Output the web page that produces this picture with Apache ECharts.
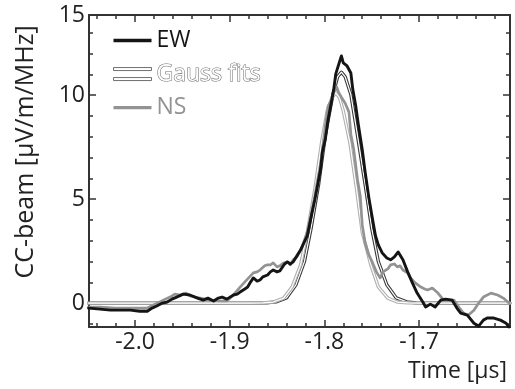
<!DOCTYPE html>
<html><head><meta charset="utf-8">
<script src="https://cdn.jsdelivr.net/npm/echarts@6.0.0/dist/echarts.min.js"></script>
<style>html,body{margin:0;padding:0;background:#fff}#c{width:515px;height:389px}</style>
</head><body><div id="c"></div>
<script>
// ---- data ----
const ewTime = [-2.049,-2.037,-2.026,-2.016,-2.005,-1.995,-1.987,-1.982,-1.977,-1.971,
 -1.966,-1.961,-1.956,-1.949,-1.942,-1.934,-1.928,-1.923,-1.917,-1.912,
 -1.908,-1.903,-1.896,-1.892,-1.889,-1.884,-1.881,-1.878,-1.875,-1.871,
 -1.868,-1.865,-1.860,-1.857,-1.854,-1.850,-1.847,-1.842,-1.839,-1.836,
 -1.833,-1.829,-1.825,-1.821,-1.818,-1.815,-1.813,-1.810,-1.807,-1.804,
 -1.802,-1.799,-1.796,-1.794,-1.790,-1.788,-1.785,-1.782,-1.780,-1.776,
 -1.772,-1.770,-1.767,-1.764,-1.760,-1.757,-1.753,-1.749,-1.746,-1.743,
 -1.739,-1.734,-1.730,-1.726,-1.722,-1.717,-1.712,-1.707,-1.702,-1.696,
 -1.693,-1.688,-1.683,-1.677,-1.672,-1.665,-1.660,-1.656,-1.649,-1.642,
 -1.637,-1.632,-1.628,-1.621,-1.614,-1.608,-1.605];
const ewValue = [-0.24,-0.29,-0.34,-0.34,-0.34,-0.39,-0.39,-0.24,-0.14,0.00,
 0.05,0.19,0.29,0.43,0.39,0.24,0.14,0.24,0.10,0.24,
 0.29,0.19,0.39,0.43,0.53,0.68,0.77,1.01,1.21,1.06,
 1.11,1.26,1.35,1.50,1.59,1.50,1.55,1.88,1.98,1.88,
 1.98,2.27,2.56,2.95,3.24,3.91,4.35,4.98,5.70,6.43,
 7.29,7.87,8.84,9.32,10.29,11.01,11.45,11.88,11.55,11.40,
 11.06,10.29,9.52,8.55,7.39,6.33,5.07,4.01,3.24,2.80,
 2.42,2.17,2.08,2.22,2.46,2.08,1.50,0.97,0.48,0.05,
 -0.19,-0.05,-0.19,0.14,0.19,0.14,-0.24,-0.48,-0.58,-0.97,
 -1.11,-0.82,-0.72,-0.72,-0.82,-0.97,-1.16];

const nsTime = [-2.049,-2.037,-2.021,-2.005,-1.987,-1.981,-1.974,-1.968,-1.963,-1.958,
 -1.952,-1.946,-1.942,-1.931,-1.921,-1.910,-1.903,-1.896,-1.889,-1.881,
 -1.875,-1.871,-1.868,-1.863,-1.860,-1.857,-1.854,-1.850,-1.847,-1.843,
 -1.839,-1.836,-1.833,-1.829,-1.825,-1.822,-1.818,-1.815,-1.813,-1.810,
 -1.807,-1.804,-1.802,-1.799,-1.796,-1.792,-1.790,-1.787,-1.785,-1.782,
 -1.780,-1.778,-1.774,-1.772,-1.769,-1.765,-1.762,-1.760,-1.757,-1.753,
 -1.749,-1.745,-1.741,-1.738,-1.733,-1.730,-1.726,-1.723,-1.720,-1.717,
 -1.712,-1.709,-1.704,-1.698,-1.694,-1.691,-1.686,-1.680,-1.674,-1.669,
 -1.663,-1.658,-1.653,-1.648,-1.642,-1.637,-1.632,-1.624,-1.617,-1.611,
 -1.605];
const nsValue = [-0.19,-0.19,-0.24,-0.24,-0.24,-0.10,0.05,0.19,0.29,0.43,
 0.39,0.48,0.34,0.24,0.14,0.10,0.10,0.39,0.77,1.16,
 1.45,1.50,1.59,1.79,1.84,1.84,1.93,1.74,1.79,1.93,
 1.98,1.84,2.08,2.22,2.56,2.90,3.43,4.01,4.49,5.17,
 5.94,6.67,7.39,8.50,9.47,9.81,10.14,10.39,10.14,9.90,
 9.81,9.61,9.18,8.12,7.39,5.94,5.12,3.77,2.90,2.32,
 1.93,1.50,1.21,1.50,1.64,1.84,1.88,1.74,1.79,1.59,
 1.45,1.21,0.97,0.77,0.68,0.63,0.72,0.48,0.14,0.14,
 0.14,-0.19,-0.48,-0.58,-0.34,0.00,0.29,0.48,0.39,0.24,
 0.00];

const ewFitTime = [-2.049,-1.877,-1.861,-1.851,-1.840,-1.830,-1.821,-1.814,-1.806,-1.799,-1.791,-1.786,-1.782,
 -1.778,-1.772,-1.765,-1.757,-1.750,-1.743,-1.734,-1.724,-1.713,-1.703,-1.687,-1.604];
const ewFitValue = [0,0,0.01,0.06,0.25,0.88,2.00,3.60,5.73,8.06,10.03,10.88,11.10,
 10.88,10.03,8.06,5.73,3.60,2.00,0.88,0.25,0.06,0.01,0,0];

const nsFitTime = [-2.049,-1.878,-1.865,-1.854,-1.843,-1.834,-1.825,-1.818,-1.810,-1.803,-1.797,-1.792,-1.788,
 -1.784,-1.780,-1.773,-1.766,-1.760,-1.751,-1.743,-1.733,-1.723,-1.712,-1.698,-1.604];
const nsFitValue = [0,0,0.01,0.05,0.24,0.78,1.85,3.41,5.48,7.70,9.24,9.88,10.10,
 9.88,9.24,7.70,5.48,3.41,1.85,0.78,0.24,0.05,0.01,0,0];

const xTickValues = [-2.0,-1.9,-1.8,-1.7];
const xTickLabels = ['-2.0','-1.9','-1.8','-1.7'];
const xMinorTickValues = [-2.04,-2.02,-1.98,-1.96,-1.94,-1.92,-1.88,-1.86,-1.84,-1.82,
 -1.78,-1.76,-1.74,-1.72,-1.68,-1.66,-1.64,-1.62];
const yTickValues = [0,5,10];
const yTickLabels = ['0','5','10'];
const yTopLabel = '15';
const yMinorTickValues = [-1,1,2,3,4,6,7,8,9,11,12,13];

const xMin = -2.0486, xMax = -1.6039, yMin = -1.15, yMax = 13.85;

// ---- chart ----
const FONT = "'Open Sans', sans-serif";
const AX = '#333';
const pairs = (t, v) => t.map((x, i) => [x, v[i]]);
const near = (arr, v) => arr.findIndex(a => Math.abs(a - v) < 1e-6);

function xAxisDef(pos, ticks, len, withLine, withLabel) {
  const a = {
    type: 'value', position: pos, min: xMin, max: xMax, splitLine: {show: false},
    axisLine: {show: withLine, onZero: false, lineStyle: {color: AX, width: 2}},
    axisTick: {show: true, inside: true, length: len, customValues: ticks, lineStyle: {color: AX, width: 1.5}},
    axisLabel: {show: false}
  };
  if (withLabel) {
    a.axisLabel = {show: true, customValues: xTickValues, margin: 4, color: '#222', fontSize: 23, fontFamily: FONT,
      formatter: v => xTickLabels[near(xTickValues, v)] ?? ''};
    a.name = 'Time [µs]';
    a.nameLocation = 'end';
    a.nameGap = 0;
    a.nameTextStyle = {align: 'right', verticalAlign: 'top', padding: [33, 3, 0, 0], color: '#222', fontSize: 23, fontFamily: FONT};
  }
  return a;
}
function yAxisDef(pos, ticks, len, withLine, withLabel) {
  const a = {
    type: 'value', position: pos, min: yMin, max: yMax, splitLine: {show: false},
    axisLine: {show: withLine, onZero: false, lineStyle: {color: AX, width: 2}},
    axisTick: {show: true, inside: true, length: len, customValues: ticks, lineStyle: {color: AX, width: 1.5}},
    axisLabel: {show: false}
  };
  if (withLabel) {
    a.axisLabel = {show: true, customValues: yTickValues.concat([yMax]), margin: 4, color: '#222', fontSize: 23, fontFamily: FONT,
      formatter: v => (Math.abs(v - yMax) < 1e-6 ? yTopLabel : (yTickLabels[near(yTickValues, v)] ?? ''))};
    a.name = 'CC-beam [µV/m/MHz]';
    a.nameLocation = 'middle';
    a.nameGap = 51;
    a.nameTextStyle = {color: '#222', fontSize: 25, fontFamily: FONT, padding: [0, 0, 0, 38]};
  }
  return a;
}

const lineS = (name, data, color, width, z) => ({
  name, type: 'line', data, xAxisIndex: 0, yAxisIndex: 0, showSymbol: false, symbol: 'none',
  silent: true, z, color, lineStyle: {color, width, join: 'round', cap: 'round'}, itemStyle: {color}
});

const chart = echarts.init(document.getElementById('c'), null, {renderer: 'canvas'});
chart.setOption({
  animation: false,
  backgroundColor: '#fff',
  grid: {left: 89, top: 15, right: 5, bottom: 62, containLabel: false},
  legend: {
    orient: 'vertical', left: 113, top: 29, padding: 0, itemGap: 10, itemWidth: 38, itemHeight: 14,
    selectedMode: false, textStyle: {fontSize: 23, fontFamily: FONT},
    data: [
      {name: 'EW', icon: 'path://M0,0H38V3.4H0Z', itemStyle: {color: '#151515'}, textStyle: {color: '#151515'}},
      {name: 'Gauss fits', icon: 'path://M0,0H38V3H0ZM0,10H38V13H0Z',
        itemStyle: {color: '#fff', borderColor: '#707070', borderWidth: 1},
        textStyle: {color: '#fff', textBorderColor: '#6e6e6e', textBorderWidth: 1.1}},
      {name: 'NS', icon: 'path://M0,0H38V3.4H0Z', itemStyle: {color: '#939393'}, textStyle: {color: '#939393'}}
    ]
  },
  xAxis: [
    xAxisDef('bottom', xTickValues, 7, true, true),
    xAxisDef('bottom', xMinorTickValues, 4, false, false),
    xAxisDef('top', xTickValues, 7, true, false),
    xAxisDef('top', xMinorTickValues, 4, false, false)
  ],
  yAxis: [
    yAxisDef('left', yTickValues, 7, true, true),
    yAxisDef('left', yMinorTickValues, 4, false, false),
    yAxisDef('right', yTickValues, 7, true, false),
    yAxisDef('right', yMinorTickValues, 4, false, false)
  ],
  series: [
    lineS('Gauss fits', pairs(ewFitTime, ewFitValue), '#3a3a3a', 3.4, 2),
    lineS('EW fit core', pairs(ewFitTime, ewFitValue), '#ffffff', 1.2, 3),
    lineS('Gauss fits', pairs(nsFitTime, nsFitValue), '#b0b0b0', 3.4, 4),
    lineS('NS fit core', pairs(nsFitTime, nsFitValue), '#ffffff', 1.2, 5),
    lineS('NS', pairs(nsTime, nsValue), '#939393', 2.7, 6),
    lineS('EW', pairs(ewTime, ewValue), '#151515', 2.9, 7)
  ]
});
</script></body></html>
